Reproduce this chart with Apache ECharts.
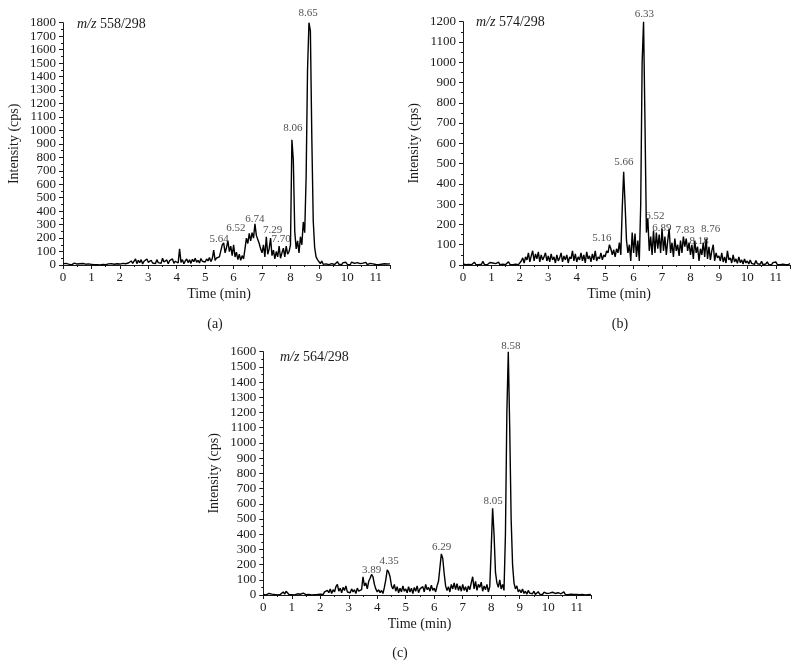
<!DOCTYPE html>
<html>
<head>
<meta charset="utf-8">
<script src="https://cdn.jsdelivr.net/npm/echarts@6/dist/echarts.min.js"></script>
<style>
  html, body { margin: 0; padding: 0; background: #fff; }
  #myChart { width: 800px; height: 668px; }
</style>
</head>
<body>
<div id="myChart"></div>
<script>
// sampling step of the chromatograms (min)
const timeStep = 0.05

// m/z 558/298 intensities (cps), 0 - 11.5 min
const valuesA = [
  8, 3, 12, 2, 6, 10, 1, 5, 14, 3, 7, 2, 9, 4, 11, 3, 6, 1, 8, 12,
  5, 15, 2, 7, 3, 9, 1, 6, 4, 11, 2, 5, 8, 3, 10, 1, 6, 4, 9, 2,
  7, 3, 12, 5, 9, 4, 15, 8, 30, 12, 25, 45, 10, 35, 18, 40, 8, 28, 15, 45,
  20, 8, 35, 15, 28, 10, 40, 18, 30, 12, 50, 22, 15, 38, 10, 32, 20, 45, 12, 28,
  35, 15, 120, 20, 40, 10, 30, 45, 18, 38, 12, 42, 25, 50, 20, 35, 15, 48, 28, 40,
  22, 45, 30, 55, 25, 48, 110, 35, 52, 40, 60, 55, 150, 165, 90, 130, 180, 100, 140, 70,
  150, 60, 95, 40, 80, 35, 70, 45, 120, 200, 160, 235, 180, 240, 200, 305, 220, 190, 160, 120,
  90, 150, 60, 210, 80, 120, 200, 70, 110, 45, 100, 60, 140, 50, 90, 125, 60, 140, 80, 100,
  150, 930, 780, 250, 120, 180, 90, 210, 150, 320, 240, 650, 1450, 1800, 1740, 950, 330, 130, 60, 40,
  25, 10, 30, 5, 18, 8, 22, 3, 15, 10, 20, 4, 12, 25, 6, 15, 3, 18, 9, 20,
  5, 15, 2, 22, 8, 12, 3, 18, 6, 10, 2, 14, 5, 20, 3, 9, 12, 2, 8, 15,
  4, 10, 2, 12, 6, 3, 9, 1, 7, 4, 8
]

// m/z 574/298
const valuesB = [
  5, 12, 2, 8, 3, 10, 1, 6, 14, 3, 7, 2, 9, 4, 18, 3, 6, 1, 8, 12,
  5, 10, 2, 7, 3, 14, 1, 6, 4, 11, 2, 5, 16, 3, 10, 1, 6, 4, 12, 2,
  8, 20, 35, 10, 40, 25, 60, 15, 45, 70, 20, 55, 30, 65, 15, 50, 25, 40, 60, 20,
  45, 15, 55, 25, 40, 10, 50, 20, 35, 60, 15, 45, 25, 50, 10, 40, 30, 70, 20, 55,
  15, 40, 25, 60, 20, 50, 10, 65, 30, 45, 15, 55, 25, 70, 20, 40, 30, 60, 25, 50,
  40, 70, 60, 100, 80, 50, 75, 40, 80, 60, 110, 50, 280, 460, 300, 120, 60, 100, 20, 160,
  60, 155, 40, 120, 20, 300, 1000, 1200, 700, 160, 230, 70, 140, 50, 170, 60, 160, 80, 150, 60,
  180, 70, 140, 50, 120, 180, 60, 110, 40, 130, 70, 100, 45, 120, 60, 140, 90, 130, 70, 110,
  50, 100, 30, 120, 60, 90, 20, 80, 50, 110, 40, 130, 30, 90, 25, 70, 100, 20, 60, 35,
  45, 20, 60, 15, 40, 10, 70, 25, 35, 10, 50, 15, 30, 8, 40, 12, 25, 5, 30, 10,
  20, 5, 25, 8, 15, 3, 22, 6, 12, 4, 18, 2, 10, 5, 15, 3, 8, 2, 12, 4,
  15, 3, 8, 2, 10, 4, 6, 1, 5, 3, 7
]

// m/z 564/298
const valuesC = [
  3, 8, 1, 5, 10, 2, 6, 12, 3, 7, 1, 9, 4, 15, 20, 6, 25, 12, 3, 8,
  2, 6, 1, 4, 8, 3, 5, 1, 12, 4, 2, 7, 3, 10, 1, 5, 2, 8, 3, 6,
  5, 12, 3, 20, 8, 30, 15, 40, 10, 35, 20, 55, 70, 25, 45, 15, 50, 30, 60, 20,
  30, 15, 40, 20, 35, 10, 45, 25, 15, 35, 120, 60, 80, 40, 90, 110, 135, 120, 70, 40,
  20, 35, 15, 30, 10, 50, 100, 165, 150, 120, 60, 40, 70, 25, 55, 15, 45, 20, 60, 25,
  40, 15, 55, 20, 45, 10, 50, 25, 60, 15, 40, 30, 55, 20, 70, 35, 50, 25, 65, 30,
  45, 20, 60, 90, 180, 270, 240, 140, 60, 30, 55, 20, 70, 40, 80, 35, 75, 30, 60, 25,
  70, 30, 55, 20, 60, 35, 80, 120, 40, 90, 30, 70, 50, 85, 25, 60, 35, 70, 20, 55,
  300, 570, 400, 150, 80, 50, 100, 40, 70, 30, 400, 1200, 1600, 1100, 500, 200, 80, 40, 60, 20,
  35, 15, 40, 10, 25, 5, 30, 12, 20, 8, 25, 4, 15, 22, 6, 12, 3, 18, 8, 10,
  5, 12, 3, 18, 6, 10, 2, 15, 5, 8, 3, 20, 4, 10, 2, 14, 5, 8, 3, 12,
  4, 8, 2, 10, 3, 6, 1, 5, 2, 4, 3
]

// peak labels: [label centre time, label centre intensity, text]
const peaksA = [
  [8.62, 1870, '8.65'], [8.08, 1018, '8.06'], [6.75, 344, '6.74'],
  [6.08, 275, '6.52'], [5.49, 193, '5.64'], [7.37, 260, '7.29'], [7.67, 195, '7.70']
]
const peaksB = [
  [6.38, 1238, '6.33'], [5.66, 506, '5.66'], [4.88, 135, '5.16'], [6.75, 242, '6.52'],
  [6.99, 184, '6.89'], [7.81, 173, '7.83'], [8.30, 120, '8.18'], [8.71, 176, '8.76']
]
const peaksC = [
  [8.69, 1637, '8.58'], [8.07, 620, '8.05'], [6.26, 318, '6.29'],
  [4.42, 225, '4.35'], [3.80, 164, '3.89']
]

const yMaxes = [1800, 1200, 1600]
const ionLabels = ['558/298', '574/298', '564/298']
const panelTags = ['(a)', '(b)', '(c)']

const serif = "'Liberation Serif', 'DejaVu Serif', serif"
const ink = '#1a1a1a'

let myChart = echarts.init(document.getElementById('myChart'))

/*三个图的位置*/
const grids = [
  { left: 63, top: 22.7, width: 327, height: 242.3 },
  { left: 463, top: 21.7, width: 327, height: 243.3 },
  { left: 263.3, top: 351.7, width: 327.6, height: 243.3 },
]

function toPoints(values) {
  return values.map((v, i) => [+(i * timeStep).toFixed(2), v])
}

const xAxes = grids.map((g, i) => ({
  type: 'value',
  gridIndex: i,
  min: 0,
  max: 11.5,
  interval: 1,
  name: 'Time (min)',
  nameLocation: 'middle',
  nameGap: 22,
  nameTextStyle: { fontFamily: serif, fontSize: 14, color: ink, padding: [0, 15, 0, 0] },
  axisLine: { lineStyle: { color: ink, width: 1 } },
  axisTick: { length: 4, lineStyle: { color: ink } },
  minorTick: { show: true, splitNumber: 2, length: 2, lineStyle: { color: ink } },
  splitLine: { show: false },
  axisLabel: {
    fontFamily: serif,
    fontSize: 13,
    color: ink,
    margin: 6,
    formatter: (v) => (Number.isInteger(v) ? String(v) : ''),
  },
}))

const yAxes = grids.map((g, i) => ({
  type: 'value',
  gridIndex: i,
  min: 0,
  max: yMaxes[i],
  interval: 100,
  name: 'Intensity (cps)',
  nameLocation: 'middle',
  nameGap: 42,
  nameTextStyle: { fontFamily: serif, fontSize: 14, color: ink },
  axisLine: { show: true, lineStyle: { color: ink, width: 1 } },
  axisTick: { show: true, length: 4, lineStyle: { color: ink } },
  minorTick: { show: true, splitNumber: 2, length: 2, lineStyle: { color: ink } },
  splitLine: { show: false },
  axisLabel: {
    fontFamily: serif,
    fontSize: 13,
    color: ink,
    margin: 7,
    formatter: (v) => String(v),
  },
}))

const traces = [valuesA, valuesB, valuesC].map((vals, i) => ({
  type: 'line',
  xAxisIndex: i,
  yAxisIndex: i,
  data: toPoints(vals),
  showSymbol: false,
  symbol: 'none',
  lineStyle: { color: '#000', width: 1.4 },
  silent: true,
  z: 2,
}))

const peakLabels = [peaksA, peaksB, peaksC].map((pk, i) => ({
  type: 'scatter',
  xAxisIndex: i,
  yAxisIndex: i,
  symbolSize: 0,
  clip: false,
  data: pk.map((p) => ({ value: [p[0], p[1]], name: p[2] })),
  label: {
    show: true,
    position: 'inside',
    formatter: '{b}',
    fontFamily: serif,
    fontSize: 11,
    color: '#222',
  },
  silent: true,
  z: 3,
}))

/*m/z 标注和 (a)(b)(c)*/
const ionPos = [[77, 26], [476, 24], [280, 359]]
const tagPos = [[215, 324], [620, 324], [400, 653]]
const graphics = []
ionPos.forEach((p, i) => {
  graphics.push({
    type: 'text',
    left: p[0],
    top: p[1] - 9,
    style: {
      text: '{i|m/z} ' + ionLabels[i],
      font: '14px ' + serif,
      fill: ink,
      rich: { i: { fontStyle: 'italic', fontFamily: serif, fontSize: 14, fill: ink } },
    },
  })
})
tagPos.forEach((p, i) => {
  graphics.push({
    type: 'text',
    x: p[0],
    y: p[1],
    style: {
      text: panelTags[i],
      font: '14px ' + serif,
      fill: ink,
      align: 'center',
      verticalAlign: 'middle',
    },
  })
})

let option = {
  backgroundColor: '#fff',
  animation: false,
  grid: grids,
  xAxis: xAxes,
  yAxis: yAxes,
  series: [...traces, ...peakLabels],
  graphic: graphics,
}
myChart.setOption(option, true)
</script>
</body>
</html>
